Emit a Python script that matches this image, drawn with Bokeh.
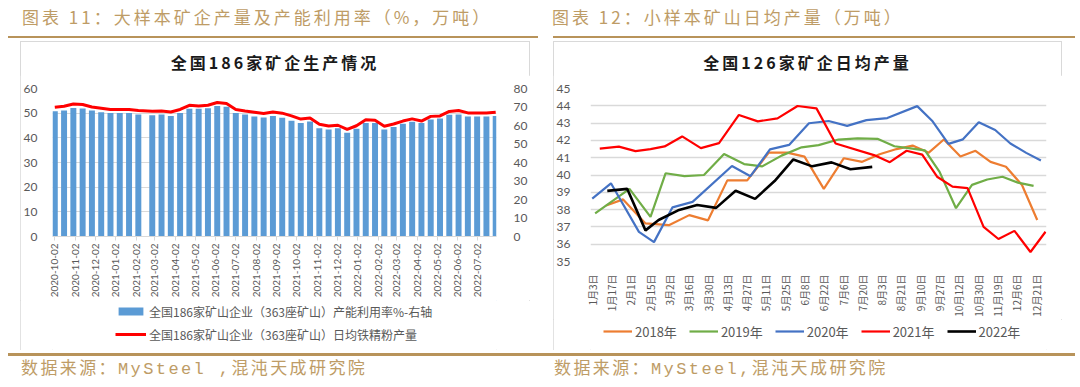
import pandas as pd
from bokeh.plotting import figure
from bokeh.models import (Range1d, LinearAxis, DatetimeAxis, FixedTicker, DatetimeTickFormatter,
                          Legend, LegendItem, ColumnDataSource, Grid, Div, Spacer)
from bokeh.layouts import row, column
from bokeh.embed import file_html
from bokeh.resources import INLINE

# ---------------- data: left panel ----------------
bar_dates = [
    "2020-10-02", "2020-10-16", "2020-10-30", "2020-11-13", "2020-11-27", "2020-12-11",
    "2020-12-25", "2021-01-08", "2021-01-22", "2021-02-05", "2021-02-26", "2021-03-12",
    "2021-03-26", "2021-04-09", "2021-04-23", "2021-05-07", "2021-05-21", "2021-06-04",
    "2021-06-18", "2021-07-02", "2021-07-16", "2021-07-30", "2021-08-13", "2021-08-27",
    "2021-09-10", "2021-09-24", "2021-10-08", "2021-10-22", "2021-11-05", "2021-11-19",
    "2021-12-03", "2021-12-17", "2021-12-31", "2022-01-14", "2022-01-28", "2022-02-11",
    "2022-02-25", "2022-03-11", "2022-03-25", "2022-04-08", "2022-04-22", "2022-05-06",
    "2022-05-20", "2022-06-03", "2022-06-17", "2022-07-01", "2022-07-15", "2022-07-29",
]
util_rate = [
    67.7, 68.1, 69.5, 69.2, 68.1, 67.2, 66.7, 66.7, 66.7, 66.0, 65.6, 66.0,
    65.2, 66.7, 69.0, 69.0, 69.3, 70.6, 70.2, 66.7, 66.0, 64.9, 64.3, 65.2,
    64.2, 62.6, 61.3, 62.2, 58.5, 57.8, 58.5, 56.1, 58.3, 61.3, 61.3, 57.8,
    59.2, 61.0, 62.0, 61.3, 63.3, 63.8, 65.8, 66.0, 64.9, 64.9, 64.9, 65.2,
]
daily_output = [
    52.4, 52.8, 53.7, 53.5, 52.5, 52.0, 51.5, 51.5, 51.5, 51.1, 50.8, 50.9,
    50.5, 51.5, 53.2, 52.9, 53.2, 54.3, 53.9, 51.5, 50.9, 50.4, 49.9, 50.5,
    50.0, 48.9, 47.6, 48.0, 45.5, 44.8, 45.1, 43.4, 44.9, 47.3, 47.1, 44.7,
    45.6, 46.8, 47.7, 46.8, 48.7, 48.9, 50.7, 51.1, 50.1, 50.1, 50.1, 50.4,
]
month_ticks = [
    "2020-10-02", "2020-11-02", "2020-12-02", "2021-01-02", "2021-02-02", "2021-03-02",
    "2021-04-02", "2021-05-02", "2021-06-02", "2021-07-02", "2021-08-02", "2021-09-02",
    "2021-10-02", "2021-11-02", "2021-12-02", "2022-01-02", "2022-02-02", "2022-03-02",
    "2022-04-02", "2022-05-02", "2022-06-02", "2022-07-02",
]
left_ticks = [0, 10, 20, 30, 40, 50, 60]
right_ticks = [0, 10, 20, 30, 40, 50, 60, 70, 80]
bar_label = "全国186家矿山企业（363座矿山）产能利用率%-右轴"
line_label = "全国186家矿山企业（363座矿山）日均铁精粉产量"

# ---------------- data: right panel ----------------
week_labels = ["1月3日", "1月17日", "2月1日", "2月15日", "3月2日", "3月16日", "3月30日",
               "4月13日", "4月27日", "5月11日", "5月25日", "6月8日", "6月22日", "7月6日",
               "7月20日", "8月3日", "8月21日", "9月10日", "9月27日", "10月12日",
               "10月30日", "11月19日", "12月6日", "12月21日"]
y_ticks2 = [35, 36, 37, 38, 39, 40, 41, 42, 43, 44, 45]

x2018 = [0.72, 1.6, 2.76, 3.97, 5.03, 6.0, 7.0, 8.03, 9.15, 10.1, 11.0, 12.0, 13.04,
         13.99, 14.89, 15.77, 16.6, 17.44, 18.22, 19.08, 19.86, 20.64, 21.44, 22.27, 23.06]
y2018 = [38.24, 38.59, 37.2, 37.1, 37.68, 37.38, 39.69, 39.69, 41.29, 41.29, 41.06, 39.2, 40.97,
         40.76, 41.2, 41.5, 41.7, 41.29, 42.05, 41.07, 41.4, 40.76, 40.48, 39.42, 37.4]
x2019 = [0.15, 1.93, 3.02, 3.8, 4.78, 5.79, 6.83, 7.87, 8.81, 9.81, 10.85, 11.73, 12.76,
         13.75, 14.78, 15.66, 16.49, 17.24, 18.0, 18.85, 19.68, 20.47, 21.26, 22.06, 22.87]
y2019 = [37.78, 39.2, 37.58, 40.1, 39.94, 40.0, 41.21, 40.63, 40.5, 41.12, 41.6, 41.73, 42.05,
         42.12, 42.09, 41.66, 41.54, 41.42, 40.18, 38.08, 39.43, 39.74, 39.9, 39.56, 39.37]
x2020 = [0.0, 0.97, 2.42, 3.2, 4.16, 5.2, 7.24, 8.2, 9.21, 10.2, 11.23, 12.25, 13.21, 14.21,
         15.29, 16.84, 17.61, 18.46, 19.21, 20.03, 20.88, 21.67, 22.49, 23.25]
y2020 = [38.64, 39.52, 36.71, 36.12, 38.13, 38.45, 40.52, 39.93, 41.48, 41.74, 42.99, 43.12,
         42.84, 43.17, 43.29, 43.98, 43.14, 41.8, 42.06, 43.05, 42.6, 41.82, 41.28, 40.84]
x2021 = [0.39, 1.38, 2.24, 3.02, 3.75, 4.66, 5.63, 6.57, 7.6, 8.58, 9.6, 10.64, 11.62, 12.61,
         14.6, 15.42, 16.29, 17.1, 17.87, 18.67, 19.45, 20.28, 21.05, 21.88, 22.71, 23.49]
y2021 = [41.53, 41.64, 41.38, 41.5, 41.65, 42.23, 41.55, 41.84, 43.47, 43.1, 43.27, 43.99, 43.85,
         41.82, 41.15, 40.74, 41.4, 41.18, 39.9, 39.33, 39.24, 37.0, 36.3, 36.77, 35.55, 36.72]
x2022 = [0.78, 1.81, 2.76, 3.44, 4.45, 5.44, 6.42, 7.43, 8.44, 9.45, 10.42, 11.4, 12.4, 13.38, 14.51]
y2022 = [39.08, 39.2, 36.8, 37.4, 37.96, 38.27, 38.1, 39.09, 38.62, 39.65, 40.9, 40.5, 40.73,
         40.33, 40.47]
series_names = ["2018年", "2019年", "2020年", "2021年", "2022年"]
series_colors = ["#ED7D31", "#70AD47", "#4472C4", "#FF0000", "#000000"]

header_left = "图表 11：大样本矿企产量及产能利用率（%，万吨）"
header_right = "图表 12：小样本矿山日均产量（万吨）"
footer_left = "数据来源：MySteel ,混沌天成研究院"
footer_right = "数据来源：MySteel,混沌天成研究院"
title_left = "全国186家矿企生产情况"
title_right = "全国126家矿企日均产量"

GOLD_TXT = "#BE9C66"
GOLD_LINE = "#B8935A"
GRID = "#D9D9D9"
TICK_TXT = "#595959"
CJK = "Noto Sans CJK SC"
BOX_STYLE = {"outline": "1.5px solid #D9D9D9", "outline-offset": "-1.5px"}


def ms(d):
    return pd.Timestamp(d).value / 1e6


def clean_fig(p):
    p.outline_line_color = None
    p.background_fill_color = "white"
    p.border_fill_color = "white"
    p.xaxis.visible = False
    p.yaxis.visible = False
    p.xgrid.visible = False
    p.ygrid.visible = False


def style_axis(ax, font, size, standoff):
    ax.axis_line_color = None
    ax.major_tick_line_color = None
    ax.minor_tick_line_color = None
    ax.major_label_standoff = standoff
    ax.major_label_text_font = font
    ax.major_label_text_font_size = size
    ax.major_label_text_color = TICK_TXT


def title_div(txt, width):
    html = (f'<div style="width:{width}px;height:34px;position:relative;">'
            f'<div style="position:absolute;left:0;top:10px;width:{width}px;text-align:center;'
            f'font-family:\'{CJK}\';font-weight:bold;font-size:16px;letter-spacing:3px;'
            f'line-height:22px;color:#1a1a1a;white-space:nowrap;">{txt}</div></div>')
    return Div(text=html, width=width, height=34, margin=0)


def legend_fig(width, height):
    # a strip holding only a legend; its sample renderers sit outside the visible range
    p = figure(width=width, height=height, output_backend="svg", toolbar_location=None,
               x_range=Range1d(0, 1), y_range=Range1d(0, 1),
               min_border_left=0, min_border_right=0, min_border_top=0, min_border_bottom=0)
    clean_fig(p)
    return p


# ---------------- left chart (panel box x 20..530, y 41..350) ----------------
d0 = pd.Timestamp(bar_dates[0])
day = 86400000.0
p1 = figure(width=510, height=225, output_backend="svg", toolbar_location=None,
            x_range=Range1d(ms(d0) - 3.45 * day, ms(d0) + 666.2 * day), y_range=Range1d(0, 60),
            min_border_left=32, min_border_right=32, min_border_top=13, min_border_bottom=62)
clean_fig(p1)
p1.extra_y_ranges = {"util": Range1d(0, 80)}

src1 = ColumnDataSource(dict(date=[ms(d) for d in bar_dates], util=util_rate, out=daily_output))
p1.vbar(x="date", top="util", width=9 * day, source=src1, y_range_name="util",
        fill_color="#5B9BD5", line_color=None)
p1.line(x="date", y="out", source=src1, line_color="#FF0000", line_width=3)

fmt = "%Y-%m-%d"
xax = DatetimeAxis(ticker=FixedTicker(ticks=[ms(d) for d in month_ticks]),
                   formatter=DatetimeTickFormatter(days=fmt, months=fmt, years=fmt, hours=fmt,
                                                   hourmin=fmt, minutes=fmt, minsec=fmt, seconds=fmt,
                                                   milliseconds=fmt, microseconds=fmt))
style_axis(xax, "Lato", "10px", 3)
xax.major_label_orientation = 1.5707963
xax.axis_line_color = GRID
xax.major_tick_line_color = GRID
xax.major_tick_out = 4
xax.major_tick_in = 0
p1.add_layout(xax, "below")

yl = LinearAxis(ticker=FixedTicker(ticks=left_ticks))
yr = LinearAxis(ticker=FixedTicker(ticks=right_ticks), y_range_name="util")
style_axis(yl, "Lato", "12px", 9)
style_axis(yr, "Lato", "12px", 11)
p1.add_layout(yl, "left")
p1.add_layout(yr, "right")
p1.add_layout(Grid(dimension=1, ticker=yl.ticker, grid_line_color=GRID, grid_line_width=1))

lg1 = legend_fig(510, 50)
r_bar = lg1.vbar(x=[5], top=[5], bottom=[4], width=1, fill_color="#5B9BD5", line_color=None)
r_line = lg1.line(x=[5, 6], y=[5, 5], line_color="#FF0000", line_width=3)
lg1.add_layout(Legend(items=[LegendItem(label=bar_label, renderers=[r_bar]),
                             LegendItem(label=line_label, renderers=[r_line])],
                      location=(63, 7.5), orientation="vertical", glyph_width=31, glyph_height=10,
                      label_height=15, spacing=6, padding=0, margin=0, border_line_color=None,
                      background_fill_alpha=0, label_text_font=CJK, label_text_font_size="12px",
                      label_text_color=TICK_TXT, label_standoff=3))

# ---------------- right chart (panel box x 553..1062, y 41..350) ----------------
p2 = figure(width=509, height=244, output_backend="svg", toolbar_location=None,
            x_range=Range1d(-0.09, 23.54), y_range=Range1d(35, 45),
            min_border_left=37, min_border_right=16, min_border_top=13, min_border_bottom=55)
clean_fig(p2)
for xs, ys, c in zip([x2018, x2019, x2020, x2021, x2022], [y2018, y2019, y2020, y2021, y2022],
                     series_colors):
    p2.line(x=xs, y=ys, line_color=c, line_width=2.6 if c == "#000000" else 2.2)

xax2 = LinearAxis(ticker=FixedTicker(ticks=list(range(len(week_labels)))))
xax2.major_label_overrides = {i: s for i, s in enumerate(week_labels)}
style_axis(xax2, CJK, "10px", 7)
xax2.major_label_orientation = 1.5707963
p2.add_layout(xax2, "below")

yax2 = LinearAxis(ticker=FixedTicker(ticks=y_ticks2))
style_axis(yax2, "Lato", "12px", 14)
p2.add_layout(yax2, "left")
p2.add_layout(Grid(dimension=1, ticker=yax2.ticker, grid_line_color=GRID, grid_line_width=1.5))

lg2 = legend_fig(509, 31)
lg2_items = []
for n, c in zip(series_names, series_colors):
    r = lg2.line(x=[5, 6], y=[5, 5], line_color=c, line_width=2.6 if c == "#000000" else 2.2)
    lg2_items.append(LegendItem(label=n, renderers=[r]))
lg2.add_layout(Legend(items=lg2_items, location=(13, 9.5), orientation="horizontal",
                      glyph_width=29, glyph_height=10, label_height=17, spacing=12, padding=0,
                      margin=0, border_line_color=None, background_fill_alpha=0,
                      label_text_font=CJK, label_text_font_size="13px",
                      label_text_color=TICK_TXT, label_standoff=3))

panel1 = column(title_div(title_left, 510), p1, lg1, spacing=0, styles=BOX_STYLE)
panel2 = column(title_div(title_right, 509), p2, lg2, spacing=0, styles=BOX_STYLE)


# ---------------- header / footer ----------------
def header_div(txt, text_left, line_left, line_width):
    html = (f'<div style="position:relative;width:540px;height:41px;">'
            f'<div style="position:absolute;left:{text_left}px;top:6px;font-family:\'{CJK}\';'
            f'font-size:17px;letter-spacing:3px;color:{GOLD_TXT};white-space:nowrap;'
            f'line-height:22px;">{txt}</div>'
            f'<div style="position:absolute;left:{line_left}px;top:36px;width:{line_width}px;'
            f'height:2px;background:{GOLD_LINE};"></div></div>')
    return Div(text=html, width=540, height=41, margin=0)


foot_font = f"font-family:'Liberation Mono','{CJK}';font-size:17px;letter-spacing:2.4px;color:{GOLD_TXT};"
footer_html = (f'<div style="position:relative;width:1080px;height:37px;">'
               f'<div style="position:absolute;left:8px;top:3px;width:1067px;height:2.5px;background:{GOLD_LINE};"></div>'
               f'<div style="position:absolute;left:21px;top:9px;line-height:22px;white-space:nowrap;{foot_font}">{footer_left}</div>'
               f'<div style="position:absolute;left:554px;top:9px;line-height:22px;white-space:nowrap;{foot_font}">{footer_right}</div>'
               f'</div>')
footer = Div(text=footer_html, width=1080, height=37, margin=0)

middle = row(Spacer(width=20, height=309), panel1, Spacer(width=23, height=309), panel2,
             Spacer(width=18, height=309), spacing=0)
layout = column(row(header_div(header_left, 22, 8, 530), header_div(header_right, 12, 13, 522), spacing=0),
                middle, footer, spacing=0)
open("out.html", "w").write(file_html(layout, INLINE))
